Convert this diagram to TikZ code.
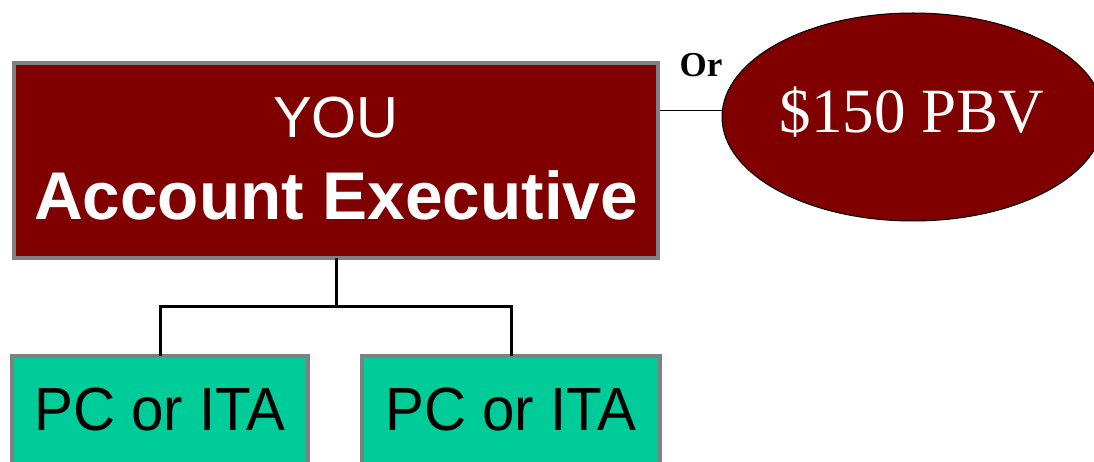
\documentclass[tikz,border=0pt]{standalone}
\usepackage{fontspec}
\usepackage{graphicx}
\setmainfont{Liberation Serif}
\setsansfont{Liberation Sans}
\usetikzlibrary{shapes.geometric}
\definecolor{maroonfill}{HTML}{800000}
\definecolor{greenfill}{HTML}{00CC99}
\definecolor{boxgray}{HTML}{808080}
\tikzset{
  redbox/.style={draw=boxgray, line width=4pt, fill=maroonfill, inner sep=0pt},
  greenbox/.style={draw=boxgray, line width=4pt, fill=greenfill, inner sep=0pt},
  conn/.style={draw=black, line width=3pt},
  thinconn/.style={draw=black, line width=1pt},
  txt/.style={inner sep=0pt, anchor=base},
}
\begin{document}
\begin{tikzpicture}[x=1pt,y=-1pt]
\useasboundingbox (0,0) rectangle (1094,462);
\clip (0,0) rectangle (1094,462);
% main box
\node[redbox, minimum width=644pt, minimum height=195pt] (you) at (336,160.5) {};
\node[txt, text=white, font=\sffamily\fontsize{58}{58}\selectfont] (youtxt) at (336,138) {YOU};
\node[txt, text=white, font=\sffamily\bfseries\fontsize{67.5}{67.5}\selectfont] (aetxt) at (336,220) {Account Executive};
% ellipse
\node[ellipse, draw=black, line width=1pt, fill=maroonfill, minimum width=382pt, minimum height=208pt, inner sep=0pt] (pbv) at (913,117) {};
\node[txt, text=white, font=\rmfamily\fontsize{63}{63}\selectfont] (pbvtxt) at (912,133) {\$150 PBV};
\draw[thinconn] ([yshift=6pt]pbv.west -| you.east) -- ([yshift=6pt]pbv.west);
\node[txt, font=\rmfamily\bfseries\fontsize{35}{35}\selectfont] (or) at (701,77) {Or};
% green boxes
\node[greenbox, minimum width=296pt, minimum height=160pt, anchor=north] (pc1) at (160,354) {};
\node[greenbox, minimum width=298pt, minimum height=160pt, anchor=north] (pc2) at (511,354) {};
\node[txt, font=\sffamily\fontsize{61}{61}\selectfont] (pc1txt) at (160,430) {\scalebox{0.955}[1]{PC or ITA}};
\node[txt, font=\sffamily\fontsize{61}{61}\selectfont] (pc2txt) at (511,430) {\scalebox{0.955}[1]{PC or ITA}};
% connectors
\draw[conn] ([yshift=2pt]you.south) -- ++(0,48) -| ([yshift=-2pt]pc1.north);
\draw[conn] ([yshift=2pt]you.south) -- ++(0,48) -| ([yshift=-2pt]pc2.north);
\end{tikzpicture}
\end{document}
